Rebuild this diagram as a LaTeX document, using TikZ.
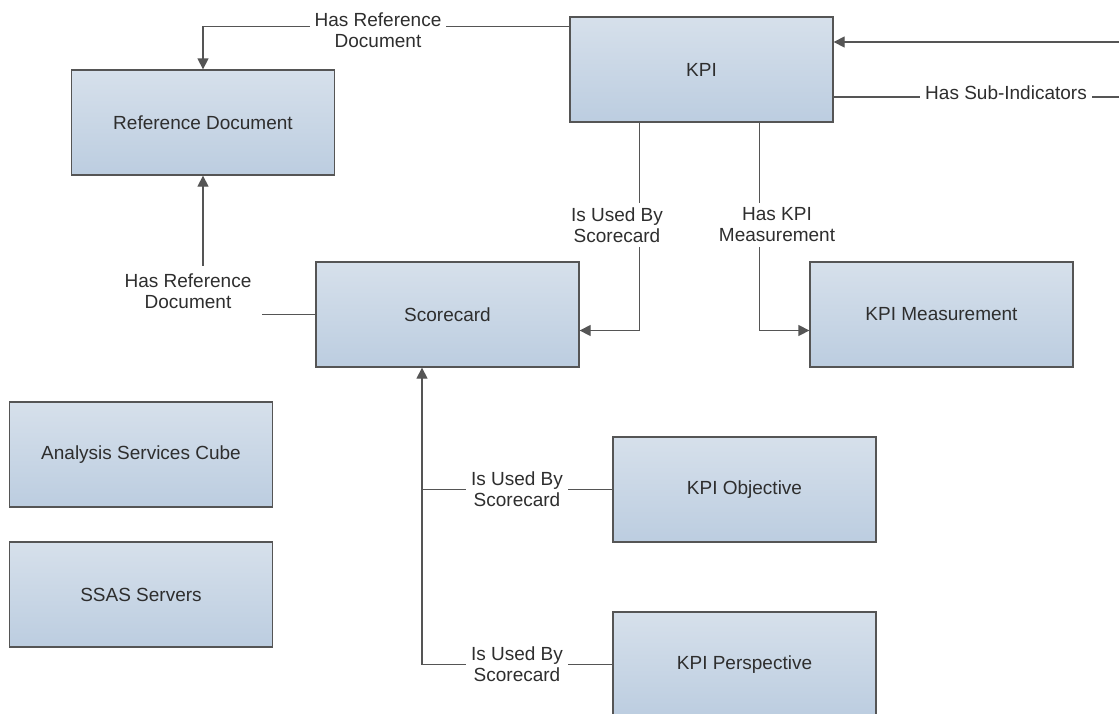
\documentclass[tikz,border=0pt]{standalone}
\usepackage{fontspec}
\setmainfont{Liberation Sans}
\usetikzlibrary{arrows.meta,calc}
\definecolor{boxtop}{HTML}{D6E0EB}
\definecolor{boxbot}{HTML}{BCCDE0}
\definecolor{edge}{HTML}{555555}
\definecolor{txt}{HTML}{2E2E2E}
\tikzset{
  entity/.style={draw=edge, line width=1.3pt, top color=boxtop, bottom color=boxbot,
    minimum width=263pt, minimum height=105pt, inner sep=0pt, text=txt,
    font=\fontsize{19}{21}\selectfont},
  conn/.style={draw=edge, line width=1.3pt},
  arr/.style={conn, -{Triangle[length=11pt,width=11pt]}},
  lbl/.style={fill=white, inner sep=5pt, align=center, text=txt,
    font=\fontsize{19}{21}\selectfont}
}
\begin{document}
\begin{tikzpicture}[x=1pt,y=-1pt]
\clip (0,0) rectangle (1119,713);
\fill[white] (0,0) rectangle (1119,713);
% entities
\node[entity] (kpi) at (701.5,69.5) {KPI};
\node[entity] (ref) at (203,122.5) {Reference Document};
\node[entity] (sc)  at (447.5,314.5) {Scorecard};
\node[entity] (kpm) at (941.5,314.5) {KPI Measurement};
\node[entity] (asc) at (141,454.5) {Analysis Services Cube};
\node[entity] (ssas) at (141,594.5) {SSAS Servers};
\node[entity] (obj) at (744.5,489.5) {KPI Objective};
\node[entity] (per) at (744.5,664.5) {KPI Perspective};
% free ends
\coordinate (rin) at (1119,42);
\coordinate (rout) at (1119,97);
\coordinate (junc) at (422,664.5);
% KPI -> Reference Document
\draw[arr] ($(kpi.north west)+(0,10)$) -| (ref.north);
\node[lbl] (l1) at (378,30) {Has Reference\\Document};
% Scorecard -> Reference Document
\draw[arr] (sc.west) -| (ref.south);
\node[lbl, inner xsep=11pt, inner ysep=8pt] (l2) at (188,291) {Has Reference\\Document};
% KPI -> Scorecard
\draw[arr] ($(kpi.south west)+(70,0)$) |- ($(sc.east)+(0,16)$);
\node[lbl] (l3) at (617,225) {Is Used By\\Scorecard};
% KPI -> KPI Measurement
\draw[arr] ($(kpi.south west)+(190,0)$) |- ($(kpm.west)+(0,16)$);
\node[lbl] (l4) at (777,225) {Has KPI\\Measurement};
% KPI sub-indicators loop
\draw[arr] (rin) -- (kpi.east |- rin);
\draw[conn] (kpi.east |- rout) -- (rout);
\node[lbl] (l5) at (1006,93) {Has Sub-Indicators};
% Objective / Perspective -> Scorecard
\draw[arr] (junc) -- (junc |- sc.south);
\draw[conn] (obj.west) -- (obj.west -| junc);
\draw[conn] (per.west) -- (junc);
\node[lbl] (l6) at (517,489) {Is Used By\\Scorecard};
\node[lbl] (l7) at (517,664) {Is Used By\\Scorecard};
\end{tikzpicture}
\end{document}
